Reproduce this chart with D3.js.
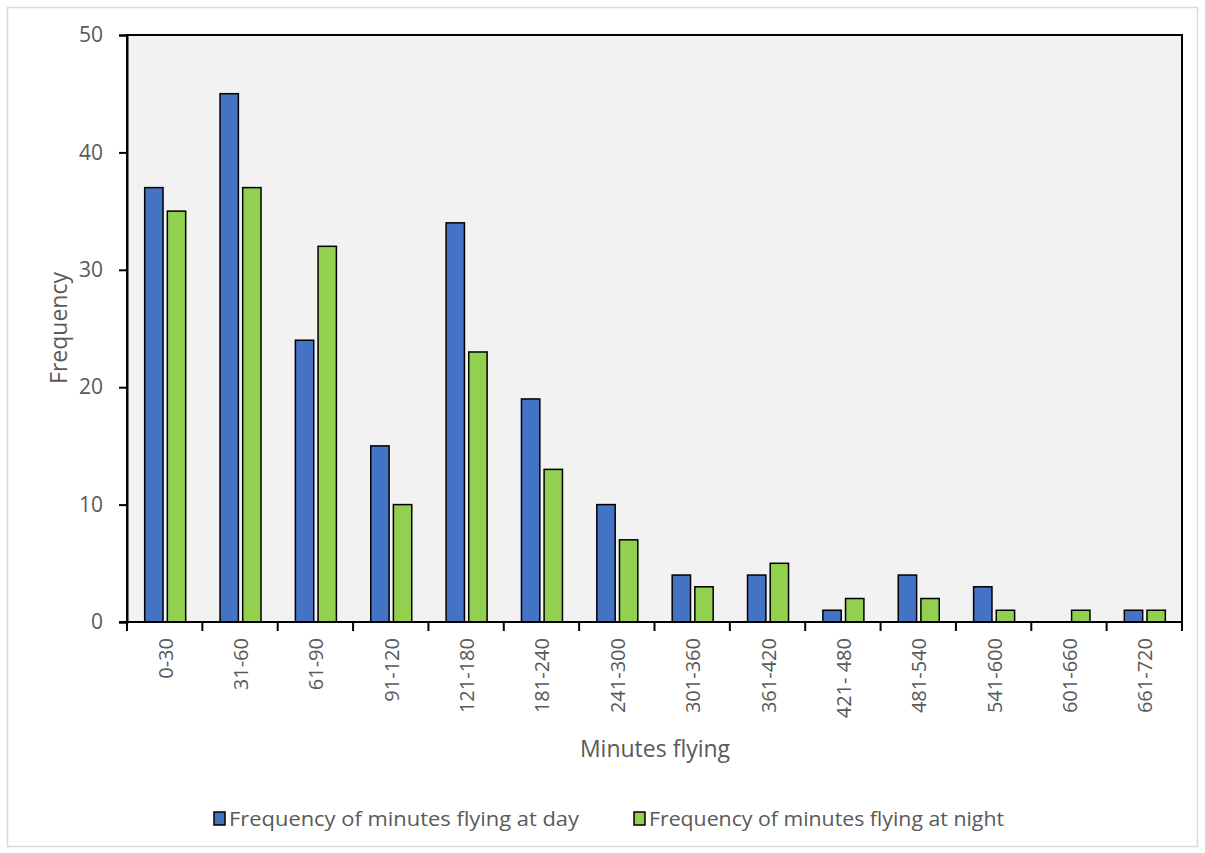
<!DOCTYPE html>
<html>
<head>
<meta charset="utf-8">
<script src="https://cdn.jsdelivr.net/npm/d3@7"></script>
<style>
  html, body { margin: 0; padding: 0; background: #fff; }
  svg text { font-family: "Open Sans", "Noto Sans", sans-serif; fill: #595959; }
</style>
</head>
<body>
<svg id="chart" width="1205" height="853"></svg>
<script>
// Flight duration bins (minutes)
const categories = ["0-30", "31-60", "61-90", "91-120", "121-180", "181-240", "241-300",
  "301-360", "361-420", "421- 480", "481-540", "541-600", "601-660", "661-720"];
// Frequency of flights during the day
const dayValues = [37, 45, 24, 15, 34, 19, 10, 4, 4, 1, 4, 3, 0, 1];
// Frequency of flights during the night
const nightValues = [35, 37, 32, 10, 23, 13, 7, 3, 5, 2, 2, 1, 1, 1];
const yTicks = [0, 10, 20, 30, 40, 50];
const seriesNames = ["Frequency of minutes flying at day", "Frequency of minutes flying at night"];
const seriesColors = ["#4472c4", "#92d050"];

const svg = d3.select("#chart");
const W = 1205, H = 853;
const m = { left: 127, right: 1182, top: 35, bottom: 622 };

// outer frame
svg.append("rect").attr("x", 7.5).attr("y", 7.5).attr("width", W - 15).attr("height", H - 14)
  .attr("fill", "#fff").attr("stroke", "#d9d9d9").attr("stroke-width", 1.5);

// plot area
svg.append("rect").attr("x", m.left).attr("y", m.top)
  .attr("width", m.right - m.left).attr("height", m.bottom - m.top)
  .attr("fill", "#f2f2f2").attr("stroke", "#000").attr("stroke-width", 2);

const x = d3.scaleBand().domain(categories).range([m.left, m.right]);
const y = d3.scaleLinear().domain([0, 50]).range([m.bottom, m.top]);
const sub = d3.scaleBand().domain([0, 1]).range([-20, 21]).paddingInner(0.19);

const rows = categories.map((c, i) => ({ c, vals: [dayValues[i], nightValues[i]] }));

const g = svg.append("g");
rows.forEach(r => {
  r.vals.forEach((v, k) => {
    if (v <= 0) return;
    g.append("rect")
      .attr("x", x(r.c) + x.bandwidth() / 2 + sub(k))
      .attr("y", y(v))
      .attr("width", sub.bandwidth())
      .attr("height", y(0) - y(v))
      .attr("fill", seriesColors[k])
      .attr("stroke", "#000").attr("stroke-width", 1.5);
  });
});

// y axis
const yAxis = svg.append("g").attr("transform", `translate(${m.left},0)`)
  .call(d3.axisLeft(y).tickValues(yTicks).tickSize(8).tickPadding(16));
yAxis.select(".domain").attr("stroke", "#000").attr("stroke-width", 2);
yAxis.selectAll(".tick line").attr("stroke", "#000").attr("stroke-width", 2);
yAxis.selectAll(".tick text").attr("font-size", 21).style("fill", "#595959")
  .style("font-family", '"Open Sans", sans-serif');

// x axis: ticks at category boundaries
const boundaries = categories.map(c => x(c)).concat([m.right]);
svg.append("line").attr("x1", m.left - 8).attr("x2", m.right).attr("y1", m.bottom).attr("y2", m.bottom)
  .attr("stroke", "#000").attr("stroke-width", 2);
svg.selectAll(".xtick").data(boundaries).enter().append("line")
  .attr("x1", d => d).attr("x2", d => d).attr("y1", m.bottom).attr("y2", m.bottom + 9)
  .attr("stroke", "#000").attr("stroke-width", 2);

svg.selectAll(".xlabel").data(categories).enter().append("text")
  .attr("transform", d => `translate(${x(d) + x.bandwidth() / 2 + 8},${m.bottom + 16}) rotate(-90)`)
  .attr("text-anchor", "end")
  .attr("font-size", 20)
  .text(d => d);

// axis titles
svg.append("text").attr("x", 655).attr("y", 757).attr("text-anchor", "middle")
  .attr("font-size", 23).text("Minutes flying");
svg.append("text").attr("transform", "translate(67,328) rotate(-90)").attr("text-anchor", "middle")
  .attr("font-size", 23).text("Frequency");

// legend
const legendX = [214, 634];
seriesNames.forEach((name, k) => {
  svg.append("rect").attr("x", legendX[k]).attr("y", 812).attr("width", 11).attr("height", 13)
    .attr("fill", seriesColors[k]).attr("stroke", "#000").attr("stroke-width", 1.5);
  svg.append("text").attr("x", legendX[k] + 15).attr("y", 826).attr("font-size", 20)
    .attr("textLength", k === 0 ? 350 : 355).attr("lengthAdjust", "spacingAndGlyphs")
    .text(name);
});
</script>
</body>
</html>
